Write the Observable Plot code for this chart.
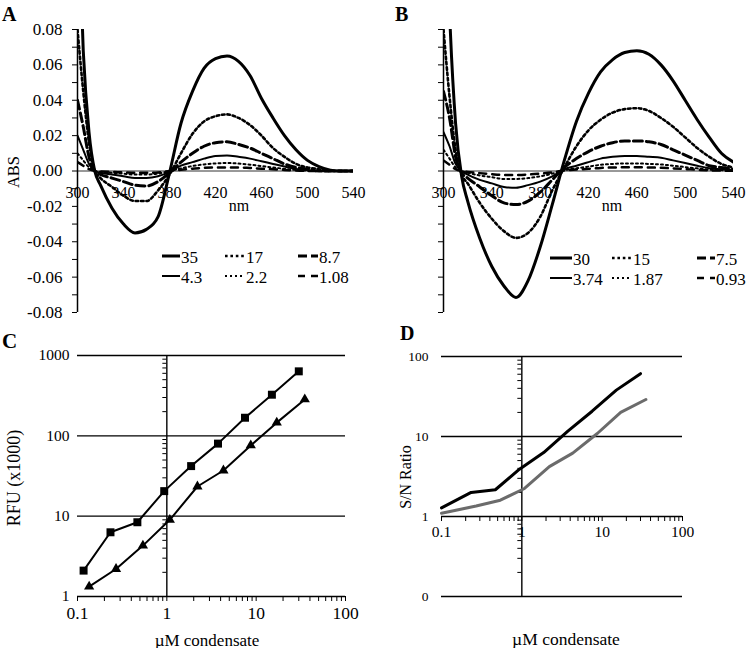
<!DOCTYPE html>
<html><head><meta charset="utf-8">
<script src="https://cdn.jsdelivr.net/npm/d3@7"></script>
<script src="https://cdn.jsdelivr.net/npm/@observablehq/plot@0.6"></script>
<style>
html,body{margin:0;padding:0;background:#fff;}
#root{position:relative;width:750px;height:648px;overflow:hidden;font-family:"Liberation Serif",serif;}
#root svg, #root svg text{font-family:"Liberation Serif",serif !important;}
.panel{position:absolute;}
#overlay{position:absolute;left:0;top:0;pointer-events:none;}
</style></head><body><div id="root"></div>
<script>
// ---------- DATA ----------
const wavelengths = [300,305,310,315,320,330,340,350,360,370,380,390,400,410,420,430,440,450,460,470,480,490,500,510,520,530,540];

// Panel A (µM) difference spectra
const concA = ["35","17","8.7","4.3","2.2","1.08"];
const absA35  = [0.16,0.068,0.022,0.000,-0.008,-0.021,-0.030,-0.035,-0.033,-0.026,-0.001,0.027,0.045,0.058,0.0635,0.065,0.062,0.054,0.041,0.030,0.020,0.012,0.006,0.0025,0.0005,0,0];
const absA17  = [0.08,0.045,0.016,0.000,-0.004,-0.009,-0.014,-0.017,-0.017,-0.011,-0.002,0.010,0.021,0.028,0.031,0.032,0.030,0.026,0.020,0.013,0.008,0.004,0.002,0.001,0,0,0];
const absA8_7 = [0.04,0.025,0.008,0.000,-0.002,-0.004,-0.006,-0.008,-0.0085,-0.006,-0.001,0.005,0.010,0.014,0.016,0.0165,0.015,0.013,0.010,0.007,0.004,0.002,0.001,0,0,0,0];
const absA4_3 = [0.020,0.012,0.004,0,-0.001,-0.002,-0.003,-0.004,-0.004,-0.003,-0.0005,0.003,0.005,0.007,0.0085,0.0088,0.008,0.007,0.0055,0.004,0.0025,0.0012,0.0005,0,0,0,0];
const absA2_2 = [0.010,0.006,0.002,0,-0.0005,-0.001,-0.0015,-0.002,-0.002,-0.0015,0,0.0015,0.0028,0.0037,0.0043,0.0045,0.0042,0.0036,0.0028,0.002,0.0012,0.0006,0.0002,0,0,0,0];
const absA1_08= [0.005,0.003,0.001,0,-0.0003,-0.0005,-0.0008,-0.001,-0.001,-0.0008,0,0.0007,0.0013,0.0018,0.002,0.002,0.002,0.0017,0.0013,0.001,0.0006,0.0003,0,0,0,0,0];

// Panel B (µM) difference spectra
const concB = ["30","15","7.5","3.74","1.87","0.93"];
const absB30  = [0.2,0.09,0.027,-0.003,-0.017,-0.038,-0.054,-0.065,-0.0715,-0.062,-0.043,-0.019,0.006,0.028,0.044,0.056,0.063,0.067,0.068,0.066,0.060,0.051,0.040,0.029,0.019,0.010,0.005];
const absB15  = [0.08,0.042,0.012,-0.002,-0.007,-0.018,-0.027,-0.034,-0.0378,-0.035,-0.026,-0.011,0.002,0.014,0.023,0.029,0.033,0.035,0.0355,0.034,0.030,0.025,0.019,0.013,0.008,0.004,0.002];
const absB7_5 = [0.045,0.030,0.008,-0.001,-0.004,-0.009,-0.014,-0.018,-0.019,-0.017,-0.012,-0.005,0.002,0.007,0.011,0.014,0.016,0.017,0.017,0.0165,0.015,0.012,0.009,0.006,0.003,0.002,0.001];
const absB3_74= [0.022,0.014,0.004,0,-0.002,-0.005,-0.007,-0.009,-0.0095,-0.008,-0.006,-0.003,0.001,0.003,0.005,0.007,0.008,0.0085,0.0085,0.008,0.0075,0.006,0.0045,0.003,0.0015,0.001,0.0005];
const absB1_87= [0.012,0.007,0.002,0,-0.001,-0.0025,-0.0035,-0.0045,-0.0045,-0.004,-0.003,-0.0015,0.0005,0.0015,0.0025,0.0035,0.004,0.0043,0.0043,0.004,0.0037,0.003,0.0022,0.0015,0.0008,0.0005,0.0002];
const absB0_93= [0.006,0.0035,0.001,0,-0.0005,-0.0012,-0.0018,-0.0022,-0.0022,-0.002,-0.0015,-0.0008,0.0003,0.0008,0.0012,0.0017,0.002,0.0021,0.0021,0.002,0.0018,0.0015,0.0011,0.0007,0.0004,0.0002,0.0001];

const specXTicks = [300,340,380,420,460,500,540];
const specYTicks = [-0.08,-0.07,-0.06,-0.05,-0.04,-0.03,-0.02,-0.01,0,0.01,0.02,0.03,0.04,0.05,0.06,0.07,0.08];

// Panel C
const condSquares   = [0.117,0.234,0.468,0.935,1.87,3.74,7.5,15,30];
const rfuSquares    = [2.1,6.3,8.4,20.5,42,80,168,325,635];
const condTriangles = [0.135,0.27,0.54,1.08,2.2,4.3,8.7,17,35];
const rfuTriangles  = [1.33,2.2,4.3,9.0,23.4,37,76,146,284];
const logXMajor = [0.1,1,10,100];
const logXMinor = [0.2,0.3,0.4,0.5,0.6,0.7,0.8,0.9,2,3,4,5,6,7,8,9,20,30,40,50,60,70,80,90];
const rfuYTicks = [1,10,100,1000];
const rfuYMinor = [2,3,4,5,6,7,8,9,20,30,40,50,60,70,80,90,200,300,400,500,600,700,800,900];

// Panel D
const snCondBlack = [0.1,0.234,0.468,0.935,1.87,3.74,7.5,15,30];
const snBlack     = [1.28,2.0,2.16,3.9,6.3,11.7,20.7,38,61];
const snCondGray  = [0.1,0.27,0.54,1.08,2.2,4.3,8.7,17,35];
const snGray      = [1.1,1.35,1.6,2.24,4.2,6.2,10.9,20,29];
const snYTicks = [0.1,1,10,100];
const snYMinor = [0.2,0.3,0.4,0.5,0.6,0.7,0.8,0.9,2,3,4,5,6,7,8,9,20,30,40,50,60,70,80,90];

// ---------- STYLES ----------
const lineStyles = [
  {strokeWidth:3},
  {strokeWidth:2.6, strokeDasharray:"2.6,2.8"},
  {strokeWidth:3, strokeDasharray:"9,4"},
  {strokeWidth:2},
  {strokeWidth:2, strokeDasharray:"2,3"},
  {strokeWidth:2.5, strokeDasharray:"7,6"}
];
const FONT = "Liberation Serif, serif";
const baseStyle = {fontFamily: FONT, fontSize: "15px", background: "transparent", color: "black", overflow: "visible"};

const root = document.getElementById("root");
function place(el, left, top) {
  const wrap = document.createElement("div");
  wrap.className = "panel";
  wrap.style.left = left + "px";
  wrap.style.top = top + "px";
  wrap.appendChild(el);
  root.appendChild(wrap);
}

function spectrumPlot(series, marginLeft, marginRight, showLabels) {
  const rows = series.flatMap((vals, k) => wavelengths.map((w, j) => ({w, a: vals[j], k})));
  const fmt = d => (Math.round(d * 100) % 2 === 0) ? d.toFixed(2) : "";
  return Plot.plot({
    width: 375, height: 325,
    marginTop: 29, marginBottom: 13, marginLeft, marginRight,
    x: {domain: [300, 540], label: null, axis: null},
    y: {domain: [-0.08, 0.08], label: null},
    style: baseStyle,
    marks: [
      Plot.ruleY([0], {stroke: "#333", strokeWidth: 1}),
      Plot.ruleX([300], {stroke: "black", strokeWidth: 1.5}),
      Plot.axisY(specYTicks, {anchor: "left", tickSize: 5, tickPadding: 10, tickFormat: showLabels ? fmt : () => "", label: null, fontSize: 17}),
      ...series.map((_, k) => Plot.line(rows.filter(r => r.k === k), {
        x: "w", y: "a", stroke: "black", curve: "monotone-x", clip: true, ...lineStyles[k]
      })),
      Plot.text(specXTicks, {x: d => d, y: 0, dy: 22, text: d => String(d), fontSize: 16, fill: "black"})
    ]
  });
}

place(spectrumPlot([absA35, absA17, absA8_7, absA4_3, absA2_2, absA1_08], 77, 22, true), 0, 0);
place(spectrumPlot([absB30, absB15, absB7_5, absB3_74, absB1_87, absB0_93], 68, 17, false), 375, 0);

// Panel C
const sq = condSquares.map((x, i) => ({x, y: rfuSquares[i]}));
const tri = condTriangles.map((x, i) => ({x, y: rfuTriangles[i]}));
const plotC = Plot.plot({
  width: 375, height: 323,
  marginTop: 30, marginBottom: 52, marginLeft: 77, marginRight: 30,
  x: {type: "log", domain: [0.1, 100], label: null},
  y: {type: "log", domain: [1, 1000], label: null},
  style: baseStyle,
  marks: [
    Plot.ruleY(rfuYTicks, {stroke: "black", strokeWidth: 1.4}),
    Plot.ruleX([1], {stroke: "black", strokeWidth: 1.4}),
    Plot.ruleY(rfuYMinor, {x1: 1, x2: 1, insetLeft: -4, stroke: "black"}),
    Plot.axisX(logXMinor, {tickSize: 5, tickFormat: () => "", label: null}),
    Plot.axisX(logXMajor, {tickSize: 5, tickPadding: 5, tickFormat: d3.format("~g"), label: null, fontSize: 17.5}),
    Plot.axisY(rfuYTicks, {tickSize: 0, tickPadding: 8, tickFormat: d3.format("~g"), label: null, fontSize: 15.5}),
    Plot.line(sq, {x: "x", y: "y", stroke: "black", strokeWidth: 2}),
    Plot.line(tri, {x: "x", y: "y", stroke: "black", strokeWidth: 2}),
    Plot.dot(sq, {x: "x", y: "y", symbol: "square", r: 4.5, fill: "black", stroke: "none"}),
    Plot.dot(tri, {x: "x", y: "y", symbol: "triangle", r: 3.8, fill: "black", stroke: "none"})
  ]
});
place(plotC, 0, 325);

// Panel D
const snB = snCondBlack.map((x, i) => ({x, y: snBlack[i]}));
const snG = snCondGray.map((x, i) => ({x, y: snGray[i]}));
const plotD = Plot.plot({
  width: 375, height: 323,
  marginTop: 31, marginBottom: 52, marginLeft: 66, marginRight: 68,
  x: {type: "log", domain: [0.1, 100], label: null, axis: null},
  y: {type: "log", domain: [0.1, 100], label: null},
  style: baseStyle,
  marks: [
    Plot.ruleY(snYTicks, {stroke: "black", strokeWidth: 1.4}),
    Plot.ruleX([1], {stroke: "black", strokeWidth: 1.4}),
    Plot.ruleY(snYMinor, {x1: 1, x2: 1, insetLeft: -4, stroke: "black"}),
    Plot.ruleX(logXMinor.concat(logXMajor), {y1: 1, y2: 1, insetBottom: -5, stroke: "black"}),
    Plot.text(logXMajor, {x: d => d, y: 1, dy: 16, text: d3.format("~g"), fontSize: 15.5, fill: "black"}),
    Plot.axisY(snYTicks, {tickSize: 0, tickPadding: 13, tickFormat: d3.format(".0f"), label: null, fontSize: 13.5}),
    Plot.line(snG, {x: "x", y: "y", stroke: "#6b6b6b", strokeWidth: 3}),
    Plot.line(snB, {x: "x", y: "y", stroke: "black", strokeWidth: 3})
  ]
});
place(plotD, 375, 325);

// ---------- overlay: panel letters, axis titles, legends ----------
const ov = d3.select(root).append("svg").attr("id", "overlay").attr("width", 750).attr("height", 648)
  .attr("font-family", FONT);
function txt(s, x, y, size, o = {}) {
  const t = ov.append("text").attr("x", x).attr("y", y).attr("font-size", size)
    .attr("font-family", FONT)
    .attr("dominant-baseline", "central").attr("text-anchor", o.anchor || "start")
    .attr("font-weight", o.bold ? "bold" : "normal").text(s);
  if (o.rotate) t.attr("transform", `rotate(-90 ${x} ${y})`);
  return t;
}
txt("A", 2, 14, 20, {bold: true});
txt("B", 395, 14, 20, {bold: true});
txt("C", 2, 341, 21, {bold: true});
txt("D", 400, 333, 20, {bold: true});
txt("ABS", 13, 172, 16.5, {anchor: "middle", rotate: true});
txt("nm", 239, 205, 16, {anchor: "middle"});
txt("nm", 612, 205, 16, {anchor: "middle"});
txt("RFU (x1000)", 14, 478, 18, {anchor: "middle", rotate: true});
txt("µM condensate", 207, 640, 17, {anchor: "middle"});
txt("S/N Ratio", 405, 477, 16, {anchor: "middle", rotate: true});
txt("µM condensate", 566, 639, 17.5, {anchor: "middle"});

function legend(labels, cols, rows) {
  labels.forEach((lab, k) => {
    const c = cols[k % 3], y = rows[Math.floor(k / 3)];
    const st = lineStyles[k];
    ov.append("line").attr("x1", c[0]).attr("x2", c[1]).attr("y1", y).attr("y2", y)
      .attr("stroke", "black").attr("stroke-width", st.strokeWidth)
      .attr("stroke-dasharray", st.strokeDasharray || null);
    txt(lab, c[1] + 1, y + 1, 17);
  });
}
legend(concA, [[162, 180], [225, 245], [298, 318]], [256, 276]);
legend(concB, [[550, 572], [612, 632], [697, 715]], [258, 278]);
</script></body></html>
